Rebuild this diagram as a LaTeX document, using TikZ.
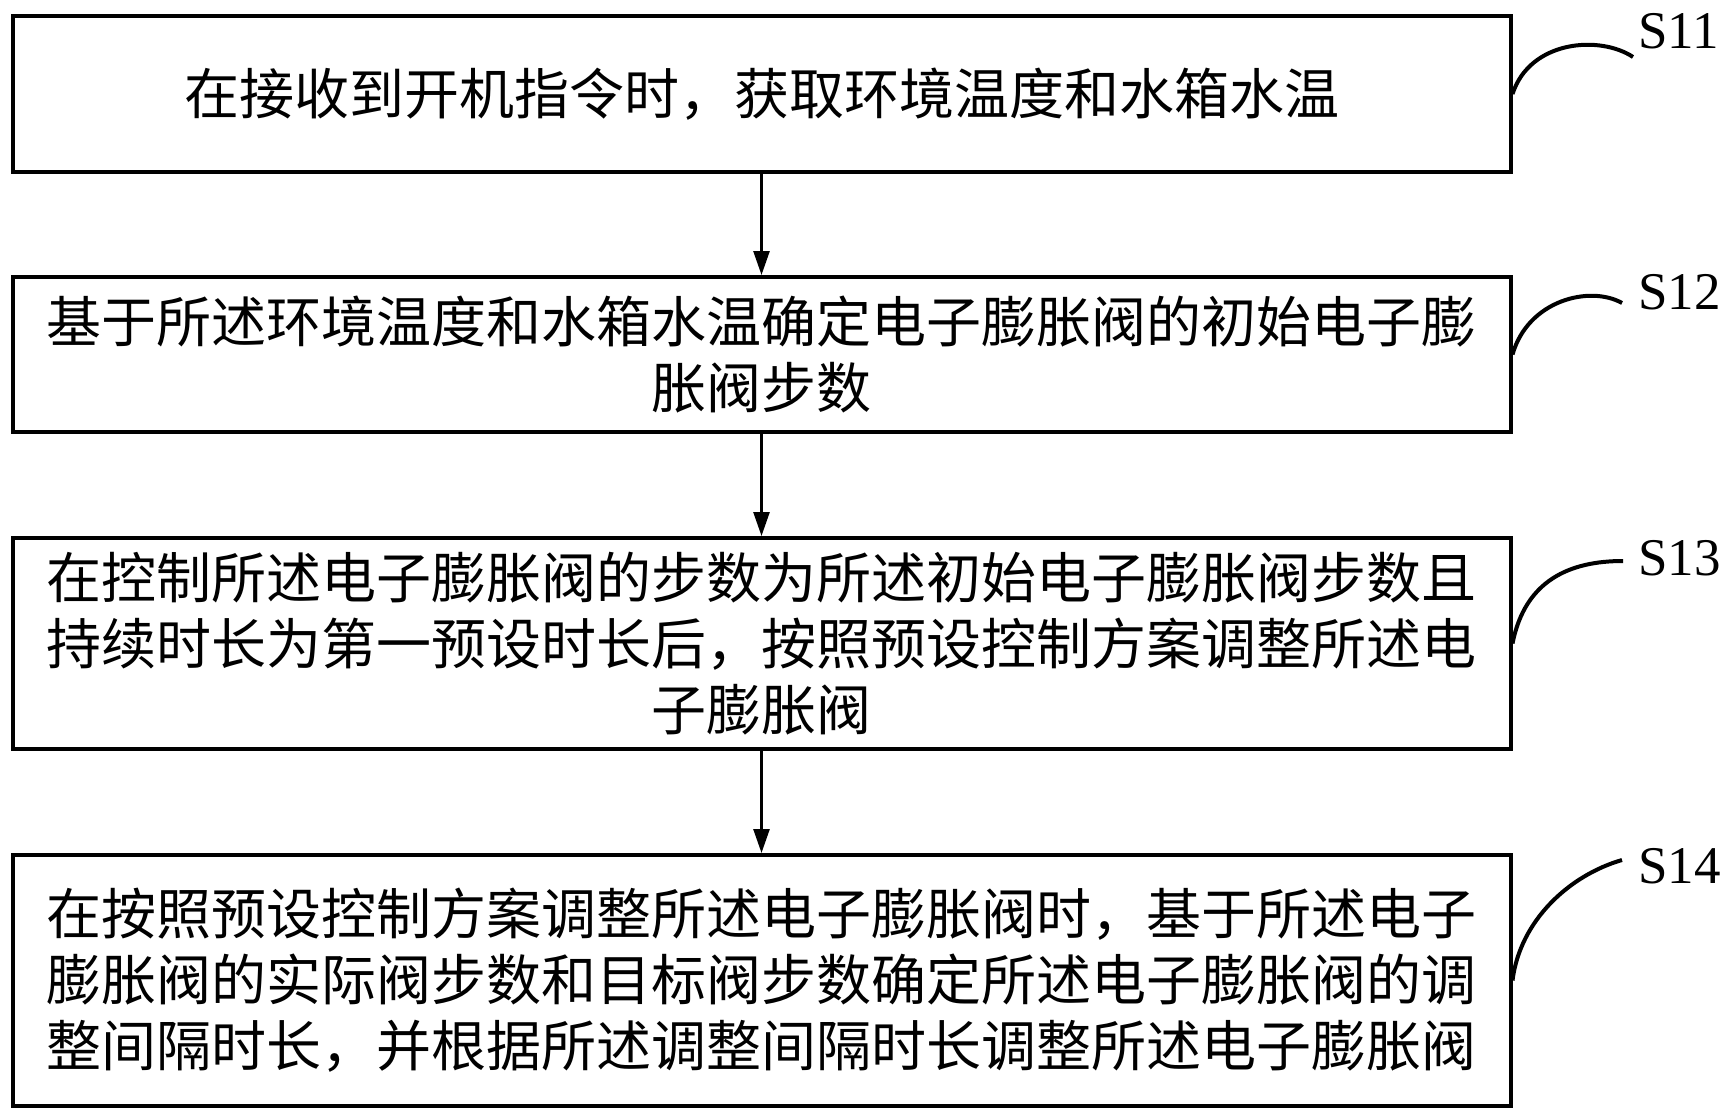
\documentclass[tikz,border=0pt]{standalone}
\usepackage{fontspec}
\setmainfont{Liberation Serif}
\newfontfamily\cjk{Noto Sans CJK SC}
\usetikzlibrary{arrows.meta}
\begin{document}
\begin{tikzpicture}[x=1pt,y=-1pt,
  stepbox/.style={draw,line width=4pt,rectangle,inner sep=0pt,align=center,
    minimum width=1498pt,font=\cjk\fontsize{55pt}{66pt}\selectfont},
  arr/.style={line width=2.6pt,-{Triangle[length=24pt,width=16pt]}},
  lead/.style={line width=4pt},
  lab/.style={anchor=west,inner sep=0pt,font=\fontsize{53pt}{60pt}\selectfont}]
\useasboundingbox (0,0) rectangle (1729,1119);
\node[stepbox,minimum height=156pt] (b1) at (761.5,94) {在接收到开机指令时，获取环境温度和水箱水温};
\node[stepbox,minimum height=155pt] (b2) at (761.5,354.5) {基于所述环境温度和水箱水温确定电子膨胀阀的初始电子膨\\胀阀步数};
\node[stepbox,minimum height=211pt] (b3) at (761.5,643.5) {在控制所述电子膨胀阀的步数为所述初始电子膨胀阀步数且\\持续时长为第一预设时长后，按照预设控制方案调整所述电\\子膨胀阀};
\node[stepbox,minimum height=251pt] (b4) at (761.5,980.5) {在按照预设控制方案调整所述电子膨胀阀时，基于所述电子\\膨胀阀的实际阀步数和目标阀步数确定所述电子膨胀阀的调\\整间隔时长，并根据所述调整间隔时长调整所述电子膨胀阀};
\draw[arr] (b1.south) -- (b2.north);
\draw[arr] (b2.south) -- (b3.north);
\draw[arr] (b3.south) -- (b4.north);
\node[lab] (s11) at (1638,31) {S11};
\node[lab] (s12) at (1638,292) {S12};
\node[lab] (s13) at (1638,558) {S13};
\node[lab] (s14) at (1638,866) {S14};
\coordinate (e1) at (1633,57);
\coordinate (e2) at (1622,303);
\coordinate (e3) at (1623,561);
\coordinate (e4) at (1622,860);
\draw[lead] (b1.east) .. controls (1530,40) and (1600,35) .. (e1);
\draw[lead] (b2.east) .. controls (1528,300) and (1590,285) .. (e2);
\draw[lead] (b3.east) .. controls (1525,580) and (1570,561) .. (e3);
\draw[lead] (b4.east) .. controls (1520,920) and (1570,875) .. (e4);
\end{tikzpicture}
\end{document}
